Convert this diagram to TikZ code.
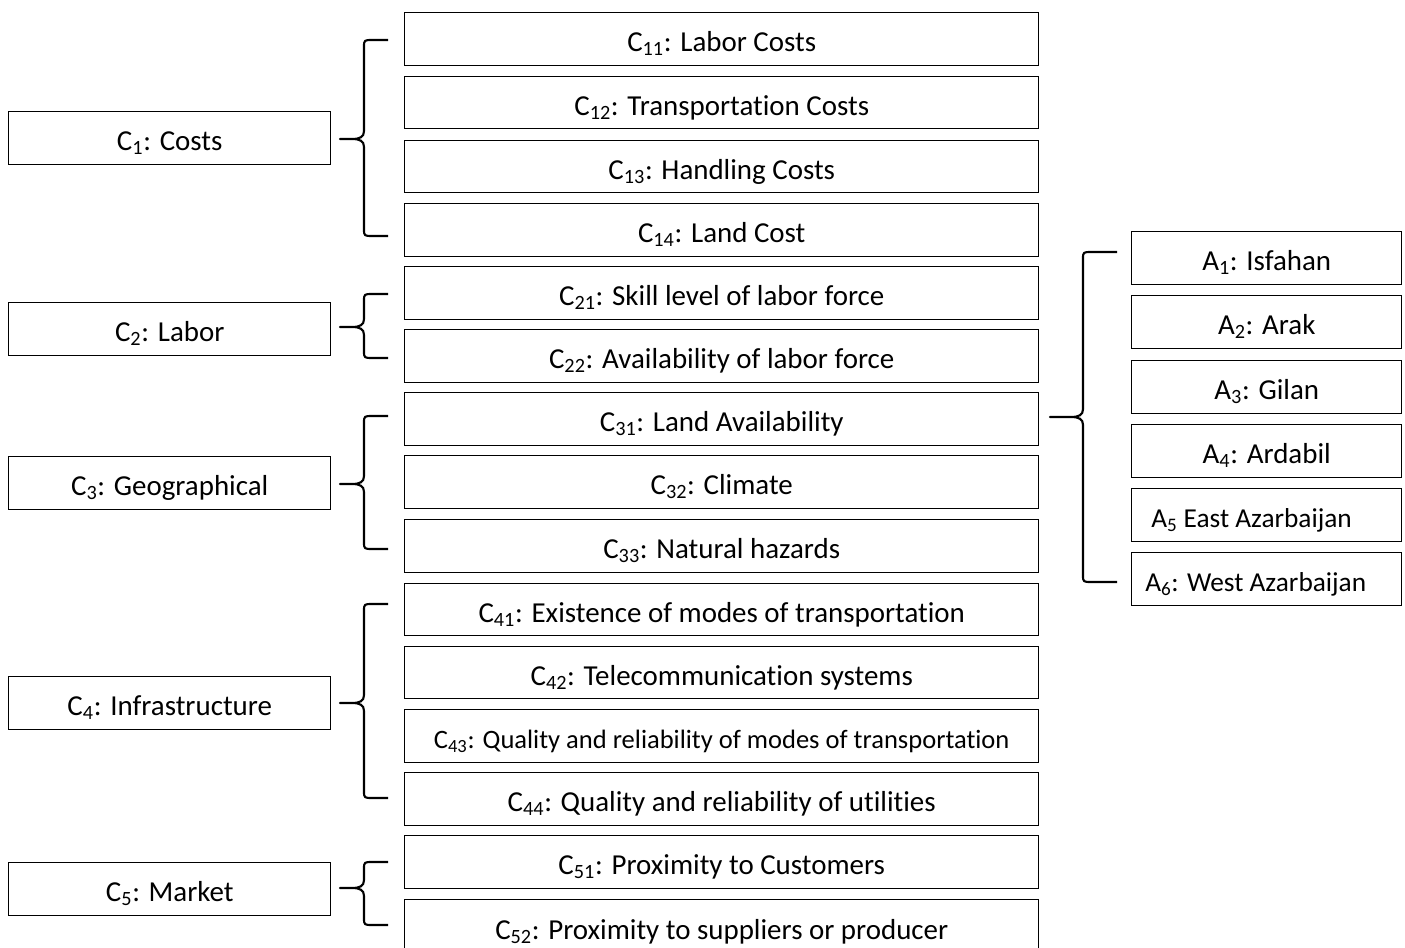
\documentclass[tikz,border=0pt]{standalone}
\usepackage{fontspec}
\setmainfont{Carlito}[Ligatures=NoCommon]
\begin{document}
\begin{tikzpicture}[x=0.75pt,y=-0.75pt,
  box/.style={draw=black,line width=1.1pt,inner sep=0pt,anchor=north west,text height=21pt,text depth=2.2pt,font=\fontsize{21.7}{24}\selectfont},
  atext/.style={anchor=base west,inner sep=0pt,font=\fontsize{20.5}{23}\selectfont},
  brc/.style={draw=black,line width=1.6pt,line join=round}]
\useasboundingbox (0,0) rectangle (1405,948);
\clip (0,0) rectangle (1405,948);
\newcommand\myLbox[4]{\node[box,minimum width=322*0.75pt,minimum height=#3*0.75pt] (#1) at (8,#2) {#4};}
\newcommand\myMbox[4]{\node[box,minimum width=634*0.75pt,minimum height=#3*0.75pt] (#1) at (404,#2) {#4};}
\newcommand\myAbox[4]{\node[box,minimum width=270*0.75pt,minimum height=#3*0.75pt] (#1) at (1131,#2) {#4};}
% x_tip x_vert x_end top mid bottom
\newcommand\wbrace[6]{\draw[brc] (#3,#4) -- ({#2+9},#4) .. controls (#2,#4) and (#2,#4) .. (#2,{#4+7}) -- (#2,{#5-8}) .. controls (#2,{#5-2}) and ({#2-4},#5) .. ({#2-12},#5) -- (#1,#5) -- ({#2-12},#5) .. controls ({#2-4},#5) and (#2,{#5+2}) .. (#2,{#5+8}) -- (#2,{#6-7}) .. controls (#2,#6) and (#2,#6) .. ({#2+9},#6) -- (#3,#6);}
% left column
\myLbox{C1}{111}{53}{C\textsubscript{1}: Costs}
\myLbox{C2}{302}{53}{C\textsubscript{2}: Labor}
\myLbox{C3}{456}{53}{C\textsubscript{3}: Geographical}
\myLbox{C4}{676}{53}{C\textsubscript{4}: Infrastructure}
\myLbox{C5}{862}{53}{C\textsubscript{5}: Market}
% middle column
\myMbox{C11}{12}{53}{C\textsubscript{11}: Labor Costs}
\myMbox{C12}{76}{52}{C\textsubscript{12}: Transportation Costs}
\myMbox{C13}{140}{52}{C\textsubscript{13}: Handling Costs}
\myMbox{C14}{203}{53}{C\textsubscript{14}: Land Cost}
\myMbox{C21}{266}{53}{C\textsubscript{21}: Skill level of labor force}
\myMbox{C22}{329}{53}{C\textsubscript{22}: Availability of labor force}
\myMbox{C31}{392}{53}{C\textsubscript{31}: Land Availability}
\myMbox{C32}{455}{53}{C\textsubscript{32}: Climate}
\myMbox{C33}{519}{53}{C\textsubscript{33}: Natural hazards}
\myMbox{C41}{583}{52}{C\textsubscript{41}: Existence of modes of transportation}
\myMbox{C42}{646}{52}{C\textsubscript{42}: Telecommunication systems}
\myMbox{C43}{709}{53}{\fontsize{19.9}{22}\selectfont C\textsubscript{43}: Quality and reliability of modes of transportation}
\myMbox{C44}{772}{53}{C\textsubscript{44}: Quality and reliability of utilities}
\myMbox{C51}{835}{53}{C\textsubscript{51}: Proximity to Customers}
\myMbox{C52}{899}{55}{C\textsubscript{52}: Proximity to suppliers or producer}
% right column
\myAbox{A1}{231}{53}{A\textsubscript{1}: Isfahan}
\myAbox{A2}{295}{53}{A\textsubscript{2}: Arak}
\myAbox{A3}{360}{53}{A\textsubscript{3}: Gilan}
\myAbox{A4}{424}{53}{A\textsubscript{4}: Ardabil}
\myAbox{A5}{488}{53}{}
\myAbox{A6}{552}{53}{}
\node[atext] (A5t) at (1151,527) {A\textsubscript{5} East Azarbaijan};
\node[atext] (A6t) at (1145,591) {A\textsubscript{6}: West Azarbaijan};
% braces
\wbrace{340}{364}{388}{40}{139}{236}
\wbrace{340}{364}{388}{294}{327}{358}
\wbrace{340}{364}{388}{416}{484}{549}
\wbrace{340}{364}{388}{604}{703}{798}
\wbrace{340}{364}{388}{862}{888}{925}
\wbrace{1050}{1083}{1117}{252}{417}{582}
\end{tikzpicture}
\end{document}
